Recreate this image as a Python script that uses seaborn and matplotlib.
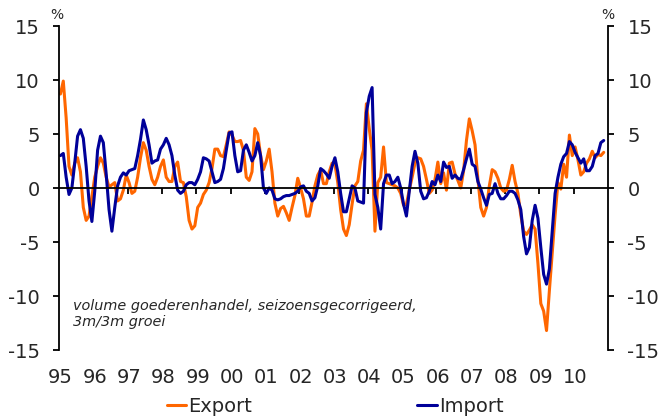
import numpy as np
import pandas as pd
import matplotlib
matplotlib.use("Agg")
import matplotlib.pyplot as plt
import seaborn as sns

# --- data: 3m/3m groei, maandcijfers jan 1995 - nov 2010 ---

export = [
    8.7, 9.9, 6.5, 2.0, 1.2, 2.3, 2.8, 1.5, -1.8, -3.0, -2.6, -0.8,      # 1995
    1.0, 2.0, 2.8, 2.3, 1.0, 0.1, 0.3, 0.5, -1.2, -1.0, -0.2, 1.2,       # 1996
    0.5, -0.5, -0.3, 1.0, 2.8, 4.2, 3.5, 2.0, 0.8, 0.3, 1.0, 2.0,        # 1997
    2.6, 1.0, 0.6, 0.6, 2.0, 2.4, 0.6, 0.5, -0.8, -3.0, -3.8, -3.5,      # 1998
    -1.8, -1.4, -0.6, -0.2, 0.5, 1.8, 3.6, 3.6, 3.0, 2.9, 4.0, 5.2,      # 1999
    4.9, 4.3, 4.3, 4.4, 3.5, 1.0, 0.7, 1.5, 5.5, 5.0, 3.0, 1.7,          # 2000
    2.5, 3.6, 1.5, -1.4, -2.6, -1.9, -1.7, -2.3, -3.0, -1.8, -0.7, 0.9,  # 2001
    0.0, -1.0, -2.6, -2.6, -1.3, 0.2, 1.2, 1.7, 0.4, 0.4, 1.5, 2.3,      # 2002
    2.2, 0.5, -2.0, -3.8, -4.4, -3.4, -1.5, 0.2, 0.6, 2.5, 3.5, 7.8,     # 2003
    5.5, 3.5, -4.0, 0.5, 1.0, 3.8, 0.5, 0.4, 0.3, 0.2, 0.0, -0.5,        # 2004
    -1.6, -1.5, -0.2, 1.0, 2.3, 2.8, 2.7, 2.0, 0.8, -0.5, -0.2, 0.8,     # 2005
    2.4, 0.4, 1.4, -0.2, 2.3, 2.4, 1.3, 0.7, 0.0, 1.6, 4.4, 6.4,         # 2006
    5.3, 4.0, 0.8, -1.8, -2.6, -1.8, 0.2, 1.7, 1.5, 0.9, 0.0, -0.3,      # 2007
    -0.2, 0.8, 2.1, 0.6, -0.5, -2.5, -4.0, -4.3, -3.9, -3.4, -3.8, -7.0, # 2008
    -10.7, -11.4, -13.2, -9.5, -6.0, -2.5, 0.5, -0.1, 2.2, 1.0, 4.9, 3.0,  # 2009
    3.8, 2.6, 1.2, 1.5, 2.3, 2.7, 3.4, 2.8, 3.1, 3.0, 3.3,               # 2010
]

imports = [
    3.0, 3.2, 1.0, -0.6, 0.0, 2.3, 4.8, 5.4, 4.6, 2.0, -1.2, -3.1,       # 1995
    -0.3, 3.5, 4.8, 4.2, 1.3, -2.0, -4.0, -1.8, 0.2, 1.0, 1.4, 1.2,      # 1996
    1.6, 1.7, 1.8, 3.0, 4.5, 6.3, 5.4, 4.0, 2.3, 2.5, 2.6, 3.6,          # 1997
    4.0, 4.6, 4.0, 3.0, 1.2, -0.2, -0.5, -0.3, 0.3, 0.5, 0.5, 0.3,       # 1998
    0.8, 1.5, 2.8, 2.7, 2.5, 1.5, 0.5, 0.6, 0.8, 1.8, 3.5, 5.1,          # 1999
    5.2, 3.0, 1.5, 1.6, 3.5, 4.0, 3.3, 2.5, 3.0, 4.2, 3.0, 0.0,          # 2000
    -0.5, 0.0, -0.2, -1.0, -1.1, -1.0, -0.8, -0.7, -0.7, -0.6, -0.5, -0.3,  # 2001
    0.1, 0.2, -0.3, -0.5, -1.2, -0.9, 0.2, 1.8, 1.6, 1.3, 0.9, 2.0,      # 2002
    2.8, 1.5, -0.5, -2.2, -2.2, -1.0, 0.2, 0.0, -1.2, -1.3, -1.4, 7.0,   # 2003
    8.5, 9.3, -0.6, -1.8, -3.8, 0.4, 1.2, 1.2, 0.4, 0.6, 1.0, 0.0,       # 2004
    -1.5, -2.6, -0.3, 2.0, 3.4, 2.3, -0.3, -1.0, -0.9, -0.3, 0.6, 0.3,   # 2005
    1.2, 0.6, 2.4, 1.9, 2.0, 0.9, 1.2, 0.9, 0.8, 1.7, 2.7, 3.6,          # 2006
    2.2, 2.0, 0.6, -0.1, -0.9, -1.6, -0.6, -0.5, 0.4, -0.5, -1.0, -1.0,  # 2007
    -0.7, -0.3, -0.3, -0.5, -1.1, -2.0, -4.5, -6.1, -5.5, -3.0, -1.6, -2.8,  # 2008
    -5.5, -8.0, -8.9, -7.5, -4.0, -0.5, 1.0, 2.2, 2.9, 3.2, 4.3, 4.0,    # 2009
    3.3, 2.8, 2.3, 2.7, 1.6, 1.6, 2.0, 3.0, 3.2, 4.2, 4.4,               # 2010
]

jaren = ['95', '96', '97', '98', '99', '00', '01', '02', '03', '04',
         '05', '06', '07', '08', '09', '10']

# maanden als positie midden in de maand
n = len(export)
tijd = 1995 + (np.arange(n) + 0.5) / 12
df = pd.DataFrame({'tijd': tijd, 'Export': export, 'Import': imports})

# --- figuur ---

sns.set_style('white')
plt.rcParams['font.family'] = ['DejaVu Sans']
plt.rcParams['axes.unicode_minus'] = False

fig = plt.figure(figsize=(6.64, 4.18), dpi=100)
ax = fig.add_axes([59 / 664, 1 - 350 / 418, 549 / 664, 324 / 418])

sns.lineplot(data=df, x='tijd', y='Export', ax=ax, color='#FF6600', lw=2.2, label='Export')
sns.lineplot(data=df, x='tijd', y='Import', ax=ax, color='#000099', lw=2.2, label='Import')

ax.set_xlim(1995, 2011)
ax.set_ylim(-15, 15)
ax.set_xlabel('')
ax.set_ylabel('')

ax.spines['top'].set_visible(False)
ax.spines['bottom'].set_position(('data', 0))
for s in ['left', 'right', 'bottom']:
    ax.spines[s].set_color('black')
    ax.spines[s].set_linewidth(1.3)

# tickmarks op de jaargrenzen, langs de nullijn
ax.set_xticks(range(1996, 2011))
ax.tick_params(axis='x', direction='out', length=4.5, width=1.3, color='black',
               bottom=True, labelbottom=False)

ax.set_yticks(range(-15, 16, 5))
ax.tick_params(axis='y', direction='out', length=4, width=1.3, color='black',
               left=True, right=True, labelleft=True, labelright=True,
               labelsize=14, pad=10)

# jaarlabels onderaan
sec = ax.secondary_xaxis('bottom')
sec.spines['bottom'].set_visible(False)
sec.set_xticks(np.arange(1995, 2011) + 0.5 / 12, labels=jaren)
sec.tick_params(length=0, labelsize=14, pad=13)

fig.text(57 / 664, 1 - 15 / 418, '%', ha='center', va='center', fontsize=10)
fig.text(608 / 664, 1 - 15 / 418, '%', ha='center', va='center', fontsize=10)

ax.text(0.0255, 0.157, 'volume goederenhandel, seizoensgecorrigeerd,\n3m/3m groei',
        transform=ax.transAxes, style='italic', fontsize=10.4, ha='left', va='top')

handles, labels = ax.get_legend_handles_labels()
ax.get_legend().remove()
fig.legend(handles, labels, loc='center', bbox_to_anchor=(335 / 664, 1 - 406 / 418),
           ncol=2, frameon=False, fontsize=14, handlelength=1.0,
           handletextpad=0.1, columnspacing=8.5, borderaxespad=0)

fig.savefig('out.png', dpi=100)
